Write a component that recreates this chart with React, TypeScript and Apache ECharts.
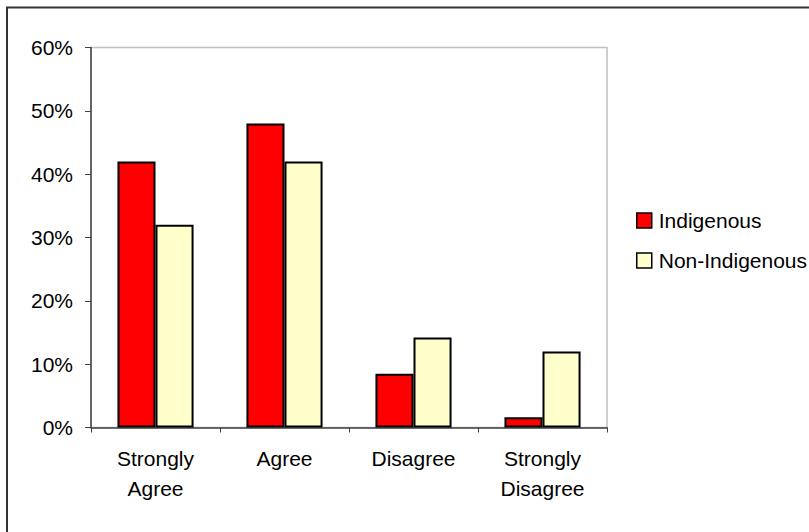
import React, { useEffect, useRef } from "react";
import * as echarts from "echarts";

const categories = ["Strongly\nAgree", "Agree", "Disagree", "Strongly\nDisagree"];
const indigenous = [42, 48, 8.5, 1.6];
const nonIndigenous = [32, 42, 14.2, 12];
const seriesNames = ["Indigenous", "Non-Indigenous"];
const yTicks = { min: 0, max: 60, interval: 10 };

const FONT = "'Liberation Sans', Arial, sans-serif";

export default function App() {
  const ref = useRef<HTMLDivElement>(null);
  useEffect(() => {
    if (!ref.current) return;
    const chart = echarts.init(ref.current, undefined, { renderer: "svg" });
    chart.setOption({
      animation: false,
      backgroundColor: "#ffffff",
      textStyle: { fontFamily: FONT },
      graphic: [
        {
          type: "rect",
          shape: { x: 7, y: 7.5, width: 1000, height: 1000 },
          style: { fill: "none", stroke: "#333333", lineWidth: 2 },
          silent: true,
        },
      ],
      grid: {
        left: 91,
        top: 47.5,
        width: 516,
        height: 380,
        show: true,
        borderColor: "#c0c0c0",
        borderWidth: 1.5,
        backgroundColor: "transparent",
      },
      legend: {
        orient: "vertical",
        left: 636,
        top: 210,
        padding: 0,
        itemWidth: 15,
        itemHeight: 15,
        itemGap: 19,
        icon: "rect",
        data: seriesNames,
        textStyle: { fontFamily: FONT, fontSize: 21, color: "#000", padding: [0, 0, 0, 2] },
        itemStyle: { borderColor: "#000", borderWidth: 1.5 },
      },
      xAxis: {
        type: "category",
        data: categories,
        axisLine: { lineStyle: { color: "#404040", width: 1.5 } },
        axisTick: { show: true, length: 5, lineStyle: { color: "#404040", width: 1 } },
        axisLabel: {
          fontFamily: FONT,
          fontSize: 21,
          color: "#000",
          lineHeight: 30,
          margin: 16,
          interval: 0,
        },
      },
      yAxis: {
        type: "value",
        min: yTicks.min,
        max: yTicks.max,
        interval: yTicks.interval,
        splitLine: { show: false },
        axisLine: { show: true, lineStyle: { color: "#404040", width: 1.5 } },
        axisTick: { show: true, length: 6, lineStyle: { color: "#404040", width: 1 } },
        axisLabel: {
          fontFamily: FONT,
          fontSize: 21,
          color: "#000",
          margin: 18,
          formatter: "{value}%",
        },
      },
      series: [
        {
          name: seriesNames[0],
          type: "bar",
          data: indigenous,
          barGap: "0%",
          barCategoryGap: "41%",
          itemStyle: { color: "#ff0000", borderColor: "#000", borderWidth: 2 },
        },
        {
          name: seriesNames[1],
          type: "bar",
          data: nonIndigenous,
          barGap: "0%",
          barCategoryGap: "41%",
          itemStyle: { color: "#ffffcc", borderColor: "#000", borderWidth: 2 },
        },
      ],
    });
    return () => chart.dispose();
  }, []);
  return (
    <div
      ref={ref}
      style={{ position: "fixed", left: 0, top: 0, width: 809, height: 532 }}
    />
  );
}
